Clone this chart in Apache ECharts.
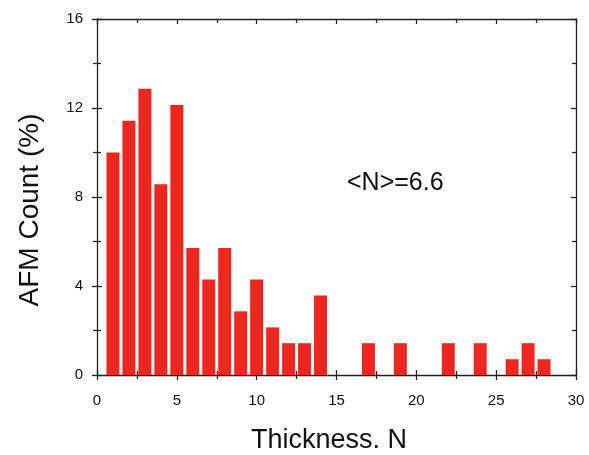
<!DOCTYPE html>
<html>
<head>
<meta charset="utf-8">
<script src="https://cdn.jsdelivr.net/npm/echarts@6/dist/echarts.min.js"></script>
<style>
html,body{margin:0;padding:0;background:#fff;}
#chart{width:589px;height:455px;}
</style>
</head>
<body>
<div id="chart"></div>
<script>
// thickness N and AFM count (%)
var thickness = [1,2,3,4,5,6,7,8,9,10,11,12,13,14,17,19,22,24,26,27,28];
var countPct = [10.0,11.43,12.86,8.57,12.14,5.71,4.29,5.71,2.86,4.29,2.14,1.43,1.43,3.57,1.43,1.43,1.43,1.43,0.71,1.43,0.71];
var xTicks = [0,5,10,15,20,25,30];
var yTicks = [0,4,8,12,16];
var meanLabel = '<N>=6.6';
var xName = 'Thickness. N';
var yName = 'AFM Count (%)';

var chart = echarts.init(document.getElementById('chart'));

var pts = [];
for (var i = 0; i < thickness.length; i++) {
  pts.push([thickness[i], countPct[i]]);
}

var font = 'Liberation Sans, Arial, sans-serif';
var lineSty = {color:'#222', width:1.3};

// helper for the plain frame axes (no labels)
function frameX(pos, inside, showLine){
  return {
    type:'value', position:pos, min:0, max:30, interval:5,
    axisLine:{show:showLine, onZero:false, lineStyle:lineSty},
    axisTick:{show:true, inside:inside, length:5, lineStyle:lineSty},
    minorTick:{show:true, splitNumber:2, length:4, lineStyle:lineSty},
    axisLabel:{show:false}, splitLine:{show:false}
  };
}
function frameY(pos, inside, showLine){
  return {
    type:'value', position:pos, min:0, max:16, interval:4,
    axisLine:{show:showLine, onZero:false, lineStyle:lineSty},
    axisTick:{show:true, inside:inside, length:5, lineStyle:lineSty},
    minorTick:{show:true, splitNumber:2, length:4, lineStyle:lineSty},
    axisLabel:{show:false}, splitLine:{show:false}
  };
}

chart.setOption({
  backgroundColor:'#fff',
  animation:false,
  grid:{left:97, right:13, top:19, bottom:80},
  xAxis:[{
    type:'value', min:xTicks[0], max:xTicks[xTicks.length-1], interval:5,
    axisLine:{show:true, onZero:false, lineStyle:lineSty},
    axisTick:{show:true, length:5, lineStyle:lineSty},
    minorTick:{show:true, splitNumber:2, length:4, lineStyle:lineSty},
    axisLabel:{fontFamily:font, fontSize:15, color:'#111', margin:18},
    splitLine:{show:false}
  }, frameX('top', true, true), frameX('bottom', true, false)],
  yAxis:[{
    type:'value', min:yTicks[0], max:yTicks[yTicks.length-1], interval:4,
    axisLine:{show:true, onZero:false, lineStyle:lineSty},
    axisTick:{show:true, length:5, lineStyle:lineSty},
    minorTick:{show:true, splitNumber:2, length:4, lineStyle:lineSty},
    axisLabel:{fontFamily:font, fontSize:15, color:'#111', margin:14},
    splitLine:{show:false}
  }, frameY('right', true, true), frameY('left', true, false)],
  series:[{
    type:'bar',
    xAxisIndex:0, yAxisIndex:0,
    data:pts,
    barWidth:13,
    itemStyle:{color:'#ec2720'}
  }],
  graphic:[{
    type:'text', left:347, top:171,
    style:{text:meanLabel, font:'25px ' + font, fill:'#111'}
  },{
    type:'text', x:329, y:441,
    style:{text:xName, font:'27px ' + font, fill:'#111', align:'center', verticalAlign:'middle'}
  },{
    type:'text', x:30, y:210, rotation:Math.PI/2,
    style:{text:yName, font:'28px ' + font, fill:'#111', align:'center', verticalAlign:'middle'}
  }]
});
</script>
</body>
</html>
